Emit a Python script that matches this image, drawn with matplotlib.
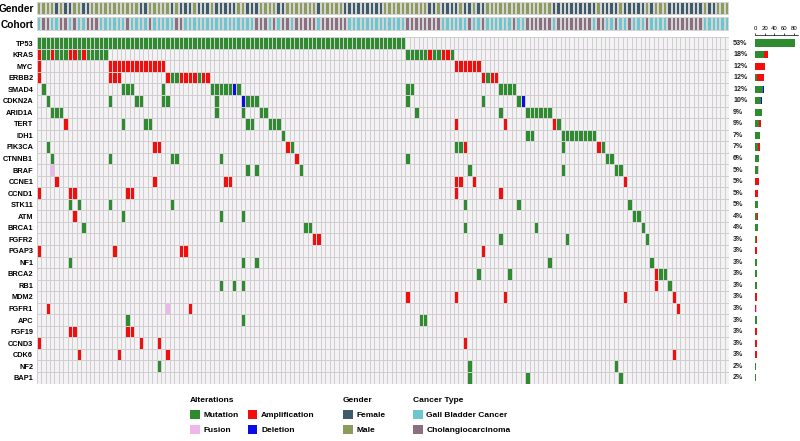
import matplotlib
matplotlib.use("Agg")
import matplotlib.pyplot as plt
import numpy as np
from matplotlib.colors import ListedColormap
from matplotlib.patches import Patch

plt.rcParams['font.family'] = ['Liberation Sans', 'DejaVu Sans']

N_SAMPLES = 156

GENES = ["TP53", "KRAS", "MYC", "ERBB2", "SMAD4", "CDKN2A", "ARID1A", "TERT",
         "IDH1", "PIK3CA", "CTNNB1", "BRAF", "CCNE1", "CCND1", "STK11", "ATM",
         "BRCA1", "FGFR2", "PGAP3", "NF1", "BRCA2", "RB1", "MDM2", "FGFR1",
         "APC", "FGF19", "CCND3", "CDK6", "NF2", "BAP1"]

PCT_LABELS = ["53%", "18%", "12%", "12%", "12%", "10%", "9%", "9%", "7%", "7%",
              "6%", "5%", "5%", "5%", "5%", "4%", "4%", "3%", "3%", "3%",
              "3%", "3%", "3%", "3%", "3%", "3%", "3%", "3%", "2%", "2%"]

# sample indices (column order of the oncoprint) carrying each alteration
MUTATION = {
    "TP53": list(range(0, 83)),
    "KRAS": [1, 2, 4, 5, 6, 9, 11, 12, 13, 14, 15, 83, 84, 85, 86, 87, 89, 90, 93],
    "ERBB2": [30, 31, 36, 101],
    "SMAD4": [1, 19, 20, 21, 28, 39, 40, 41, 42, 43, 45, 83, 84, 104, 105, 106, 107],
    "CDKN2A": [2, 16, 22, 23, 28, 29, 40, 47, 48, 49, 83, 100, 108],
    "ARID1A": [3, 4, 5, 40, 46, 50, 51, 85, 104, 110, 111, 112, 113, 114, 115],
    "TERT": [19, 24, 25, 47, 48, 52, 53, 54, 117],
    "IDH1": [55, 110, 111, 118, 119, 120, 121, 122, 123, 124, 125],
    "PIK3CA": [2, 57, 94, 95, 118, 127],
    "CTNNB1": [3, 16, 30, 31, 41, 83, 128, 129],
    "BRAF": [47, 49, 59, 97, 118, 130, 131],
    "STK11": [7, 9, 16, 30, 96, 108, 133],
    "ATM": [19, 41, 46, 134, 135],
    "BRCA1": [10, 60, 61, 96, 112, 136],
    "FGFR2": [104, 119, 137],
    "NF1": [7, 46, 49, 115, 138],
    "BRCA2": [99, 106, 140, 141],
    "RB1": [41, 44, 46, 142],
    "APC": [20, 46, 86, 87],
    "NF2": [27, 97, 130],
    "BAP1": [97, 110, 131],
}

AMPLIFICATION = {
    "KRAS": [0, 3, 7, 8, 10, 88, 91, 92],
    "MYC": [0] + list(range(16, 29)) + list(range(94, 100)),
    "ERBB2": [0, 16, 17, 18, 29, 32, 33, 34, 35, 37, 38, 100, 102, 103],
    "TERT": [6, 94, 105, 116],
    "PIK3CA": [26, 27, 56, 96, 126],
    "CTNNB1": [58],
    "CCNE1": [4, 26, 42, 43, 94, 95, 98, 132],
    "CCND1": [0, 7, 8, 20, 21, 94, 104],
    "ATM": [8],
    "FGFR2": [62, 63],
    "PGAP3": [0, 17, 32, 33, 100],
    "BRCA2": [139],
    "RB1": [139],
    "MDM2": [83, 94, 105, 132, 143],
    "FGFR1": [2, 34, 144],
    "FGF19": [7, 8, 20, 21],
    "CCND3": [0, 23, 27, 96],
    "CDK6": [9, 18, 29, 143],
}

FUSION = {"BRAF": [3], "FGFR1": [29]}

DELETION = {"SMAD4": [44], "CDKN2A": [46, 109]}

# F = female, M = male
GENDER = ("MMMMFMFFMMFFMMMMMMMMMMMFFMMMMMFMFFFMFFFMFFFFFMMFFFMMMMFFMMMMMMMFMMMMMFFFFFFFFF"
          "MMMMMMMMMMFFMFFFFMFFMFFMMMMMMMMMMMMMMMFFFFFFFFFFMFFFFMFFFFFMFMMMFFFFFFFFMFFMMM")
# G = gall bladder cancer, C = cholangiocarcinoma
COHORT = ("GCCGGCCGCGGCCCGGGGGGCGGGGCGGGGGCCGGGGGGGGGGGGGGGGCCCGCGCCGCCCCCGCCCCCCGGGGGGGG"
          "GGGGGCCCCCCCCGGGGGGCGGCGGGGGGCGGCCCCCCGCCCCCCCCGCCGGCGGCGGGCGGGGCCCCCCCCGGGGGG")

ALT_LABELS = ["Mutation", "Amplification", "Deletion", "Fusion"]
ALT_COLORS = ["#2e8b30", "#f40d0d", "#0b0be8", "#efb6ea"]
EMPTY_COLOR = "#f4f2f4"
GRID_COLOR = "#cfcfcf"
GENDER_COLORS = {"F": "#3e5b6c", "M": "#8d9b5c"}
COHORT_COLORS = {"G": "#6bc6d0", "C": "#8a6f80"}

# build the matrix: 0 = none, 1.. = alteration type
tables = [MUTATION, AMPLIFICATION, DELETION, FUSION]
mat = np.zeros((len(GENES), N_SAMPLES), dtype=int)
counts = np.zeros((len(GENES), len(tables)))
for k, table in enumerate(tables):
    for gene, cols in table.items():
        gi = GENES.index(gene)
        mat[gi, cols] = k + 1
        counts[gi, k] = len(cols)

fig = plt.figure(figsize=(8, 4.41), dpi=100)

def frac(x0, y0, x1, y1):
    return [x0 / 800, 1 - y1 / 441, (x1 - x0) / 800, (y1 - y0) / 441]

# main grid
ax = fig.add_axes(frac(36.7, 37.3, 729.3, 383.5))
cmap = ListedColormap([EMPTY_COLOR] + ALT_COLORS)
ax.pcolormesh(np.arange(N_SAMPLES + 1), np.arange(len(GENES) + 1), mat,
              cmap=cmap, vmin=-0.5, vmax=4.5, edgecolors=GRID_COLOR, linewidth=0.45)
ax.set_xlim(0, N_SAMPLES)
ax.set_ylim(len(GENES), 0)
ax.set_xticks([])
ax.set_yticks(np.arange(len(GENES)) + 0.5)
ax.set_yticklabels(GENES, fontsize=5.3, fontweight='bold')
ax.tick_params(axis='y', length=0, pad=2.5)
for s in ax.spines.values():
    s.set_visible(False)
for i, lab in enumerate(PCT_LABELS):
    ax.annotate(lab, xy=(1, i + 0.5), xycoords=('axes fraction', 'data'),
                xytext=(2.8, 0), textcoords='offset points', ha='left', va='center',
                fontsize=5.1, fontweight='bold', color='#222222')

# annotation tracks
for name, values, colors, box in [("Gender", GENDER, GENDER_COLORS, (36.7, 1.7, 729.3, 15.0)),
                                  ("Cohort", COHORT, COHORT_COLORS, (36.7, 17.3, 729.3, 30.8))]:
    tax = fig.add_axes(frac(*box))
    keys = list(colors)
    row = np.array([[keys.index(v) for v in values]])
    tax.pcolormesh(np.arange(N_SAMPLES + 1), [0, 1], row,
                   cmap=ListedColormap([colors[k] for k in keys]), vmin=-0.5, vmax=len(keys) - 0.5,
                   edgecolors='#d4d4d4', linewidth=0.35)
    tax.set_xlim(0, N_SAMPLES)
    tax.set_ylim(0, 1)
    tax.set_xticks([])
    tax.set_yticks([0.5])
    tax.set_yticklabels([name], fontsize=7.3, fontweight='bold')
    tax.tick_params(axis='y', length=0, pad=2)
    for s in tax.spines.values():
        s.set_visible(False)

# row bar chart
bax = fig.add_axes(frac(755, 37.3, 797.5, 383.5))
left = np.zeros(len(GENES))
for k in range(len(tables)):
    bax.barh(np.arange(len(GENES)) + 0.5, counts[:, k], left=left, height=0.62,
             color=ALT_COLORS[k], linewidth=0)
    left += counts[:, k]
bax.set_ylim(len(GENES), 0)
bax.set_xlim(0, 88)
bax.set_xticks([0, 20, 40, 60, 80])
bax.set_yticks([])
bax.xaxis.tick_top()
bax.tick_params(axis='x', labelsize=4.3, length=1.5, width=0.5, pad=0.8)
for side in ['right', 'left', 'bottom']:
    bax.spines[side].set_visible(False)
bax.spines['top'].set_linewidth(0.5)
bax.spines['top'].set_position(('outward', 2))
bax.patch.set_visible(False)

# legends
def sq(c):
    return Patch(facecolor=c, edgecolor='none')

leg_kw = dict(frameon=False, fontsize=6, title_fontsize=6, handlelength=1.15, handleheight=1.15,
              handletextpad=0.45, labelspacing=0.75, borderpad=0, borderaxespad=0,
              alignment='left', loc='upper left')
alt_order = ["Mutation", "Fusion", "Amplification", "Deletion"]
l1 = fig.legend([sq(ALT_COLORS[ALT_LABELS.index(a)]) for a in alt_order], alt_order,
                title="Alterations", ncol=2, columnspacing=1.1,
                bbox_to_anchor=(190 / 800, 1 - 397 / 441), **leg_kw)
l2 = fig.legend([sq(GENDER_COLORS["F"]), sq(GENDER_COLORS["M"])], ["Female", "Male"],
                title="Gender", bbox_to_anchor=(343 / 800, 1 - 397 / 441), **leg_kw)
l3 = fig.legend([sq(COHORT_COLORS["G"]), sq(COHORT_COLORS["C"])],
                ["Gall Bladder Cancer", "Cholangiocarcinoma"],
                title="Cancer Type", bbox_to_anchor=(413 / 800, 1 - 397 / 441), **leg_kw)
for lg in (l1, l2, l3):
    for t in lg.get_texts():
        t.set_fontweight('bold')
    lg.get_title().set_fontweight('semibold')

fig.savefig("out.png", dpi=100)
